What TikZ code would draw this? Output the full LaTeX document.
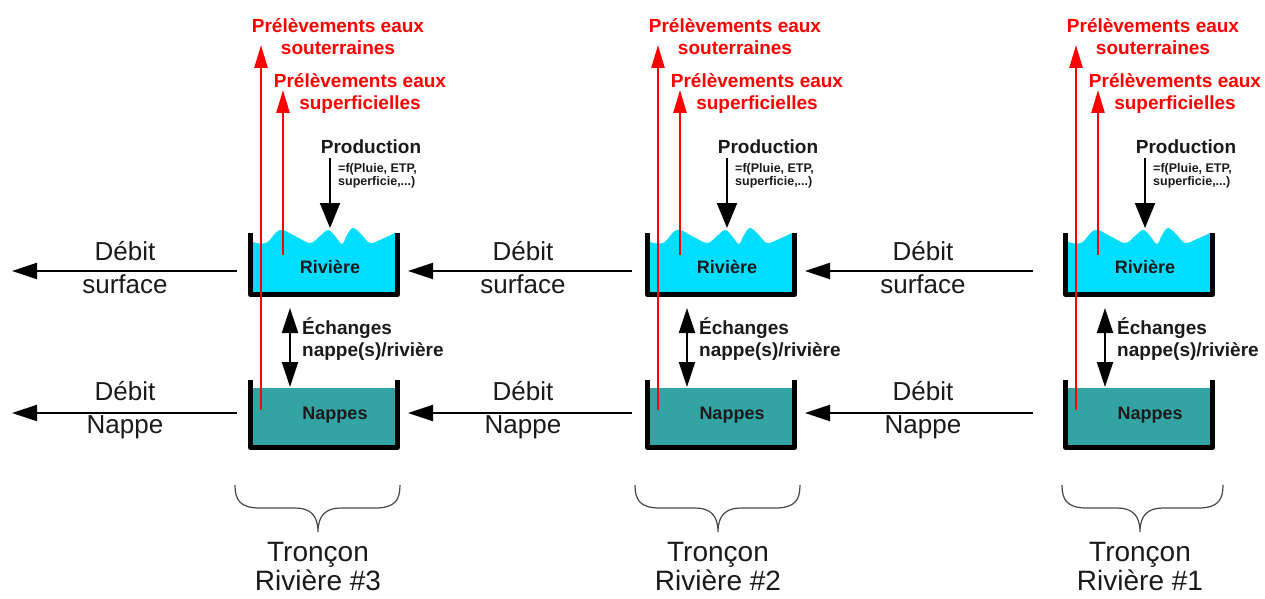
\documentclass[tikz,border=0pt]{standalone}
\usepackage{fontspec}
\setmainfont{Liberation Sans}
\usetikzlibrary{arrows.meta}
\definecolor{river}{RGB}{0,221,255}
\definecolor{nappe}{RGB}{51,163,163}
\definecolor{txt}{RGB}{26,26,26}
\definecolor{brace}{RGB}{70,70,70}
\begin{document}
\begin{tikzpicture}[x=1pt,y=-1pt,
  wall/.style={line width=5pt,line join=round},
  redarrow/.style={draw=red,line width=2.5pt,-{Triangle[length=23pt,width=13pt]}},
  blkarrow/.style={draw=black,line width=2pt,-{Triangle[length=25pt,width=16pt]}},
  prodarrow/.style={draw=black,line width=2pt,-{Triangle[length=25pt,width=20pt]}},
  dblarrow/.style={draw=black,line width=2pt,{Triangle[length=25pt,width=16pt]}-{Triangle[length=25pt,width=16pt]}},
  debit/.style={font=\fontsize{26}{33}\selectfont,text=txt,align=center,inner sep=0pt},
  redtxt/.style={font=\bfseries\fontsize{19}{22}\selectfont,text=red,align=center,inner sep=0pt},
  blktxt/.style={font=\bfseries\fontsize{19}{22}\selectfont,text=txt,align=left,inner sep=0pt},
  smalltxt/.style={font=\bfseries\fontsize{12.5}{12.5}\selectfont,text=txt,align=left,inner sep=0pt},
  tanktxt/.style={font=\bfseries\fontsize{18}{20}\selectfont,text=txt,inner sep=0pt},
  troncon/.style={font=\fontsize{28}{29}\selectfont,text=txt,align=center,inner sep=0pt},
  bracepath/.style={draw=brace,line width=1.2pt}
]
\useasboundingbox (0,0) rectangle (1265,599);
\foreach \xo/\id/\num/\bl/\bt/\br in {248/a/3/235/318/400, 645/b/2/635/718/800, 1063/c/1/1062/1140/1223}{
  \begin{scope}[shift={(\xo,0)}]
    % river water
    \fill[river] plot[smooth,tension=0.6] coordinates {(5,242) (18,243) (32,230) (47,236) (62,243) (72,236) (80,230) (87,236) (94,244) (99,235) (105,228) (113,234) (122,243) (134,239) (147,233)}
      -- (147,292) -- (5,292) -- cycle;
    \draw[wall] (2.5,233) -- (2.5,294.5) -- (149.5,294.5) -- (149.5,233);
    \node[tanktxt] (riv\id) at (82,267) {Rivière};
    \coordinate (rl\id) at (2.5,271);
    \coordinate (rr\id) at (149.5,271);
    % nappes
    \fill[nappe] (5,388) rectangle (147,445);
    \draw[wall] (2.5,380) -- (2.5,447.5) -- (149.5,447.5) -- (149.5,380);
    \node[tanktxt] (nap\id) at (87,415) {Nappes};
    % red arrows
    \coordinate (ls\id) at (13,410);
    \coordinate (le\id) at (13,45);
    \coordinate (ss\id) at (35,255);
    \coordinate (se\id) at (35,90);
    \draw[redarrow] (ls\id) -- (le\id);
    \draw[redarrow] (ss\id) -- (se\id);
    \node[redtxt] (sout\id) at (90,37) {Prélèvements eaux\\souterraines};
    \node[redtxt] (sup\id) at (112,94) {Prélèvements eaux\\superficielles};
    % production
    \node[blktxt] (prod\id) at (123,147) {Production};
    \node[smalltxt,anchor=west] (prodf\id) at (90,176) {=f(Pluie, ETP,\\superficie,...)};
    \coordinate (ps\id) at (82,158);
    \coordinate (pe\id) at (82,228);
    \draw[prodarrow] (ps\id) -- (pe\id);
    % exchanges
    \coordinate (es\id) at (42,308);
    \coordinate (ee\id) at (42,387);
    \draw[dblarrow] (es\id) -- (ee\id);
    \node[blktxt,anchor=west] (ech\id) at (54,339) {Échanges\\nappe(s)/rivière};
  \end{scope}
  % brace
  \draw[bracepath] (\bl,485) .. controls (\bl,500) and (\bl+5,508) .. (\bl+25,508)
     -- (\bt-23,508) .. controls (\bt-8,508) and (\bt,515) .. (\bt,532)
     .. controls (\bt,515) and (\bt+8,508) .. (\bt+23,508)
     -- (\br-25,508) .. controls (\br-5,508) and (\br,500) .. (\br,485);
  \node[troncon] (tr\id) at (\bt,566) {Tronçon\\Rivière \#\num};
}
% flows
\coordinate (outs) at (12,271);
\coordinate (outn) at (12,413);
\coordinate (sa) at (237,271);
\coordinate (na) at (237,413);
\coordinate (sb) at (632,271);
\coordinate (nb) at (632,413);
\coordinate (sbt) at (408,271);
\coordinate (nbt) at (408,413);
\coordinate (sc) at (1033,271);
\coordinate (nc) at (1033,413);
\coordinate (sct) at (805,271);
\coordinate (nct) at (805,413);
\draw[blkarrow] (sa) -- (outs);
\draw[blkarrow] (na) -- (outn);
\draw[blkarrow] (sb) -- (sbt);
\draw[blkarrow] (nb) -- (nbt);
\draw[blkarrow] (sc) -- (sct);
\draw[blkarrow] (nc) -- (nct);
\node[debit] (dsa) at (125,268) {Débit\\surface};
\node[debit] (dna) at (125,410) {Débit\\Nappe};
\node[debit] (dsb) at (523,268) {Débit\\surface};
\node[debit] (dnb) at (523,410) {Débit\\Nappe};
\node[debit] (dsc) at (923,268) {Débit\\surface};
\node[debit] (dnc) at (923,410) {Débit\\Nappe};
\end{tikzpicture}
\end{document}
